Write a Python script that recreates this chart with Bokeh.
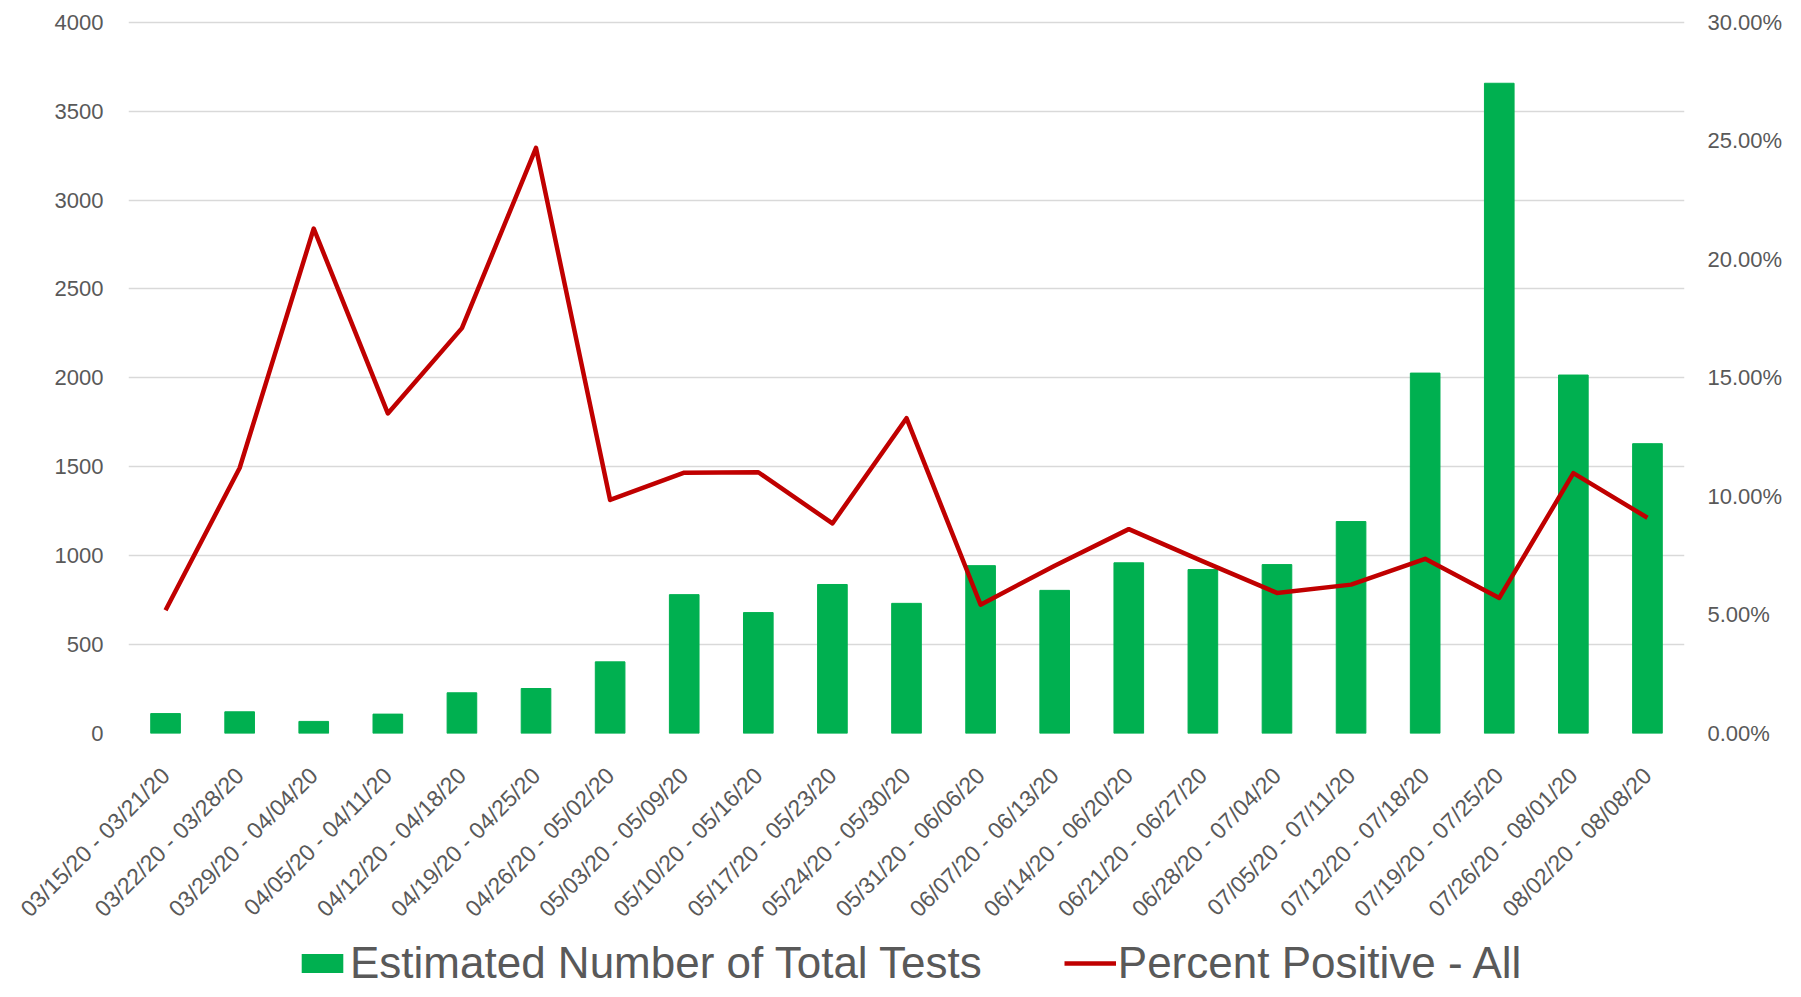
from bokeh.plotting import figure
from bokeh.layouts import column
from bokeh.models import (FactorRange, Range1d, LinearAxis, NumeralTickFormatter,
                          SingleIntervalTicker, Legend, LegendItem, ColumnDataSource)
from bokeh.embed import file_html
from bokeh.resources import INLINE
import math

weeks = [
    "03/15/20 - 03/21/20", "03/22/20 - 03/28/20", "03/29/20 - 04/04/20",
    "04/05/20 - 04/11/20", "04/12/20 - 04/18/20", "04/19/20 - 04/25/20",
    "04/26/20 - 05/02/20", "05/03/20 - 05/09/20", "05/10/20 - 05/16/20",
    "05/17/20 - 05/23/20", "05/24/20 - 05/30/20", "05/31/20 - 06/06/20",
    "06/07/20 - 06/13/20", "06/14/20 - 06/20/20", "06/21/20 - 06/27/20",
    "06/28/20 - 07/04/20", "07/05/20 - 07/11/20", "07/12/20 - 07/18/20",
    "07/19/20 - 07/25/20", "07/26/20 - 08/01/20", "08/02/20 - 08/08/20",
]
total_tests = [112, 122, 68, 109, 229, 253, 403, 781, 680, 838, 732,
               944, 805, 960, 922, 950, 1192, 2027, 3657, 2016, 1630]
pct_positive = [0.052, 0.112, 0.213, 0.135, 0.171, 0.247, 0.0985, 0.110, 0.1102,
                0.0886, 0.1330, 0.0543, 0.0708, 0.0862, 0.0726, 0.0593, 0.0628,
                0.0737, 0.0572, 0.1098, 0.0910]
series_names = ["Estimated Number of Total Tests", "Percent Positive - All"]

GREEN = "#00B050"
RED = "#C00000"
GREY = "#595959"

src = ColumnDataSource(dict(week=weeks, tests=total_tests, pct=pct_positive))

p = figure(width=1785, height=933, x_range=FactorRange(*weeks, range_padding=0),
           y_range=Range1d(0, 4010), output_backend="svg", toolbar_location=None,
           min_border_left=128, min_border_right=100, min_border_top=20,
           min_border_bottom=190)
p.outline_line_color = None
p.extra_y_ranges = {"pct": Range1d(0, 0.30075)}

bars = p.vbar(x="week", top="tests", width=0.4, source=src, color=GREEN)
line = p.line(x="week", y="pct", source=src, y_range_name="pct",
              line_color=RED, line_width=4.5, line_join="round")

p.xgrid.grid_line_color = None
p.ygrid.grid_line_color = "#D9D9D9"
p.ygrid.grid_line_width = 1.5
p.yaxis.ticker = SingleIntervalTicker(interval=500)

right = LinearAxis(y_range_name="pct", ticker=SingleIntervalTicker(interval=0.05),
                   formatter=NumeralTickFormatter(format="0.00%"))
p.add_layout(right, "right")

for ax in [p.yaxis[0], right]:
    ax.axis_line_color = None
    ax.major_tick_line_color = None
    ax.minor_tick_line_color = None
    ax.major_label_text_color = GREY
    ax.major_label_text_font = "Liberation Sans"
    ax.major_label_text_font_size = "22px"
p.yaxis[0].major_label_standoff = 19
right.major_label_standoff = 17

xa = p.xaxis[0]
xa.axis_line_color = None
xa.major_tick_line_color = None
xa.major_label_orientation = math.pi / 4
xa.major_label_text_color = GREY
xa.major_label_text_font = "Liberation Sans"
xa.major_label_text_font_size = "23px"
xa.major_label_standoff = 32

# legend strip below the chart (proxy glyphs that draw nothing visible)
lf = figure(width=1785, height=55, x_range=Range1d(0, 1), y_range=Range1d(0, 1),
            output_backend="svg", toolbar_location=None,
            min_border_left=128, min_border_right=100, min_border_top=0, min_border_bottom=0)
lf.axis.visible = False
lf.grid.visible = False
lf.outline_line_color = None
lb = lf.vbar(x=[0.5], top=[0], bottom=[0], width=0.4, fill_color=GREEN, line_color=None)
ll = lf.line(x=[5, 6], y=[0.5, 0.5], line_color=RED, line_width=4.5)
legend = Legend(items=[LegendItem(label=series_names[0], renderers=[lb]),
                       LegendItem(label=series_names[1], renderers=[ll])],
                orientation="horizontal", location=(168, 0),
                label_text_font="Liberation Sans", label_text_font_size="44px",
                label_text_color=GREY, glyph_width=52, glyph_height=24,
                label_standoff=2, spacing=82, padding=0, margin=0,
                border_line_color=None, background_fill_alpha=0)
lf.add_layout(legend, "center")

layout = column(p, lf, spacing=0)
open("out.html", "w").write(file_html(layout, INLINE))
